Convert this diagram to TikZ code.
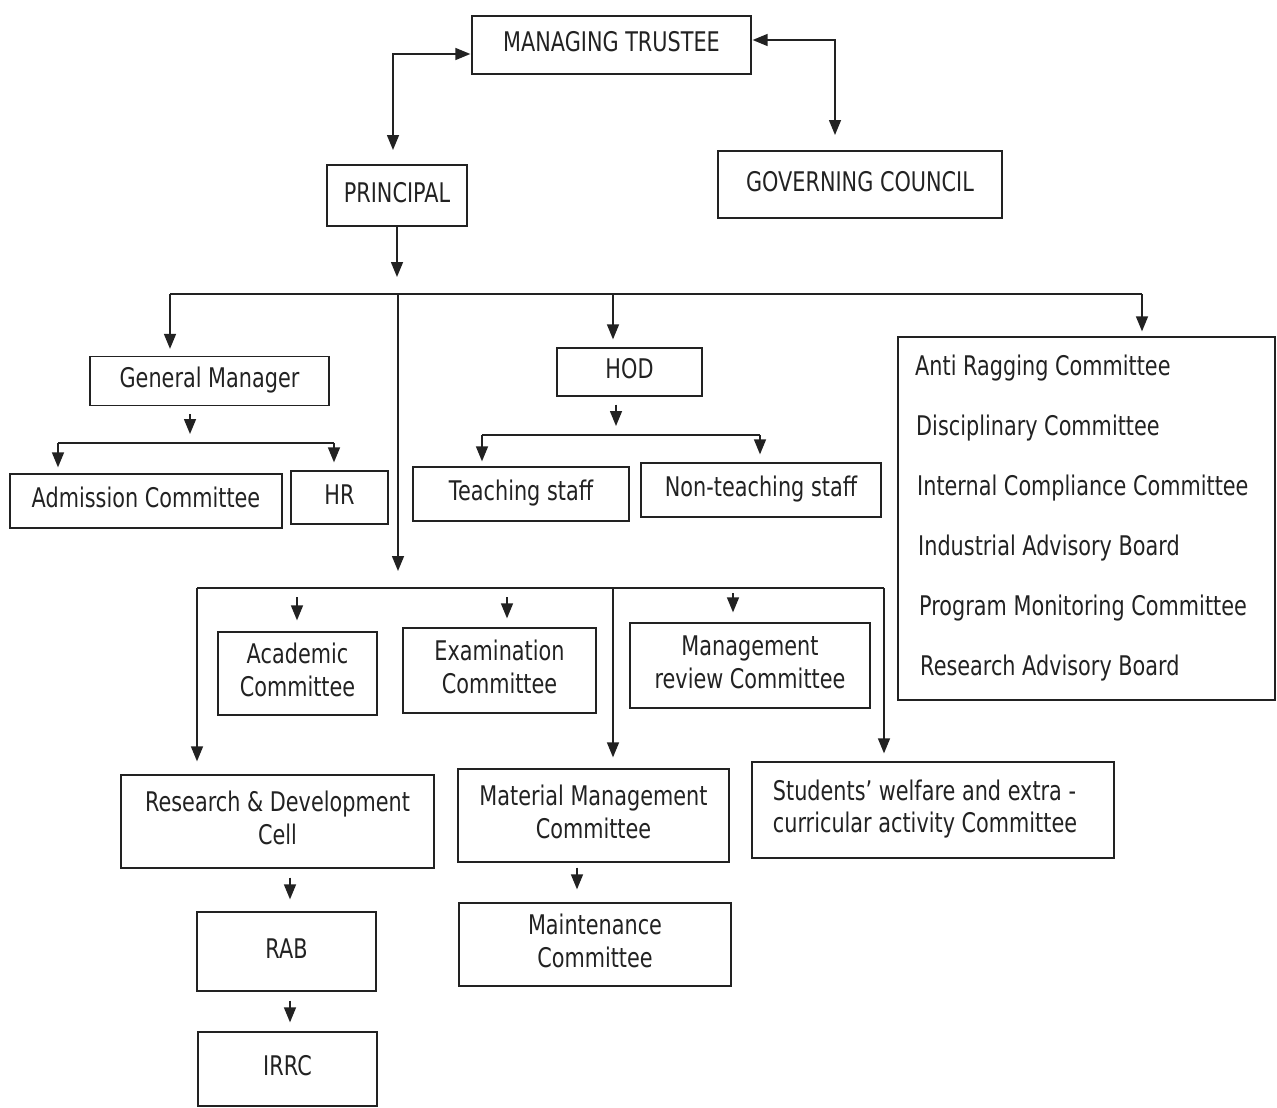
\documentclass[tikz,border=0pt]{standalone}
\usepackage{fontspec}
\setmainfont{DejaVu Sans}
\usepackage{graphicx}
\usetikzlibrary{arrows.meta,calc}
\definecolor{ink}{HTML}{222222}
\newcommand\tx[1]{\scalebox{1}[1.3]{\begin{tabular}{@{}c@{}}#1\end{tabular}}}
\newcommand\txl[1]{\scalebox{1}[1.3]{#1}}
\begin{document}
\begin{tikzpicture}[x=1pt,y=-1pt,
  box/.style={draw=ink, line width=1.3pt, inner sep=0pt, text=ink,
    font=\fontsize{20.8}{25}\selectfont},
  lst/.style={inner sep=0pt, text=ink, font=\fontsize{20.8}{25}\selectfont, anchor=west},
  ln/.style={draw=ink, line width=1.5pt},
  arr/.style={draw=ink, line width=1.5pt, -{Triangle[length=15pt,width=12pt]}},
  arrb/.style={draw=ink, line width=1.5pt, {Triangle[length=15pt,width=12pt]}-{Triangle[length=15pt,width=12pt]}}]
\fill[white] (0,0) rectangle (1277,1108);
\useasboundingbox (0,0) rectangle (1277,1108);

% ---------- boxes ----------
\node[box, minimum width=279, minimum height=58] (mt) at (611.5,45) {\tx{MANAGING TRUSTEE}};
\node[box, minimum width=284, minimum height=67] (gc) at (860,184.5) {\tx{GOVERNING COUNCIL}};
\node[box, minimum width=140, minimum height=61] (pr) at (397,195.5) {\tx{PRINCIPAL}};
\node[box, minimum width=239, minimum height=49] (gm) at (209.5,381) {\tx{General Manager}};
\node[box, minimum width=145, minimum height=48] (hod) at (629.5,372) {\tx{HOD}};
\node[box, minimum width=272, minimum height=54] (adm) at (146,501) {\tx{Admission Committee}};
\node[box, minimum width=97, minimum height=53] (hr) at (339.5,497.5) {\tx{HR}};
\node[box, minimum width=216, minimum height=54] (teach) at (521,494) {\tx{Teaching staff}};
\node[box, minimum width=240, minimum height=54] (nonteach) at (761,490) {\tx{Non-teaching staff}};
\node[box, minimum width=377, minimum height=363] (list) at (1086.5,518.5) {};
\node[box, minimum width=159, minimum height=83] (acad) at (297.5,673.5) {\tx{Academic\\Committee}};
\node[box, minimum width=193, minimum height=85] (exam) at (499.5,670.5) {\tx{Examination\\Committee}};
\node[box, minimum width=240, minimum height=85] (mrev) at (750,665.5) {\tx{Management\\review Committee}};
\node[box, minimum width=313, minimum height=93] (rnd) at (277.5,821.5) {\tx{Research \& Development\\Cell}};
\node[box, minimum width=271, minimum height=93] (matm) at (593.5,815.5) {\tx{Material Management\\Committee}};
\node[box, minimum width=362, minimum height=96] (stud) at (933,810) {\scalebox{1}[1.3]{\begin{tabular}{@{}l@{}}Students’ welfare and extra -\\curricular activity Committee\end{tabular}}\hspace*{16pt}};
\node[box, minimum width=272, minimum height=83] (maint) at (595,944.5) {\tx{Maintenance\\Committee}};
\node[box, minimum width=179, minimum height=79] (rab) at (286.5,951.5) {\tx{RAB}};
\node[box, minimum width=179, minimum height=74] (irrc) at (287.5,1069) {\tx{IRRC}};

% ---------- list of committees ----------
\node[lst] (l1) at (915,368) {\txl{Anti Ragging Committee}};
\node[lst] (l2) at (916,428) {\txl{Disciplinary Committee}};
\node[lst] (l3) at (917,488) {\txl{Internal Compliance Committee}};
\node[lst] (l4) at (918,548) {\txl{Industrial Advisory Board}};
\node[lst] (l5) at (919,608) {\txl{Program Monitoring Committee}};
\node[lst] (l6) at (920,668) {\txl{Research Advisory Board}};

% ---------- coordinates ----------
\coordinate (c1) at (393,150);
\coordinate (c1t) at (393,54);
\coordinate (c2) at (835,135);
\coordinate (c2t) at (835,40);
\coordinate (c3) at (397,277);
\coordinate (bL) at (170,294);
\coordinate (bH) at (613,294);
\coordinate (bP) at (398,294);
\coordinate (bR) at (1142,294);
\coordinate (gx) at (190,443);
\coordinate (gL) at (58,443);
\coordinate (gR) at (334,443);
\coordinate (hx) at (616,435);
\coordinate (hL) at (482,435);
\coordinate (hR) at (760,435);
\coordinate (mL) at (197,588);
\coordinate (mP) at (398,588);
\coordinate (mA) at (297,588);
\coordinate (mE) at (507,588);
\coordinate (mM) at (613,588);
\coordinate (mV) at (733,588);
\coordinate (mR) at (884,588);

% ---------- connectors ----------
\draw[arrb, shorten >=1pt] (c1) -- (c1t) -- (c1t -| mt.west);
\draw[arrb, shorten <=1pt] (c2t -| mt.east) -- (c2t) -- (c2);
\draw[arr] (pr.south -| c3) -- (c3);
\draw[ln] (bL) -- (bR);
\draw[arr, shorten >=7pt] (bL) -- (gm.north -| bL);
\draw[arr, shorten >=8pt] (bH) -- (hod.north -| bH);
\draw[arr, shorten >=5pt] (bR) -- (list.north -| bR);
\draw[arr, shorten >=17pt] (bP) -- (mP);

\draw[arr, shorten <=8pt, shorten >=9pt] (gm.south -| gx) -- (gx);
\draw[ln] (gL) -- (gR);
\draw[arr, shorten >=6pt] (gL) -- (adm.north -| gL);
\draw[arr, shorten >=8pt] (gR) -- (hr.north -| gR);

\draw[arr, shorten <=8pt, shorten >=9pt] (hod.south -| hx) -- (hx);
\draw[ln] (hL) -- (hR);
\draw[arr, shorten >=5pt] (hL) -- (teach.north -| hL);
\draw[arr, shorten >=8pt] (hR) -- (nonteach.north -| hR);

\draw[ln] (mL) -- (mR);
\draw[arr, shorten >=13pt] (mL) -- (rnd.north -| mL);
\draw[arr, shorten >=11pt] (mM) -- (matm.north -| mM);
\draw[arr, shorten >=8pt] (mR) -- (stud.north -| mR);
\draw[arr, shorten <=9pt, shorten >=11pt] (mA) -- (acad.north -| mA);
\draw[arr, shorten <=9pt, shorten >=9pt] (mE) -- (exam.north -| mE);
\draw[arr, shorten <=5pt, shorten >=10pt] (mV) -- (mrev.north -| mV);

\coordinate (rx) at (290,0);
\coordinate (mx) at (577,0);
\draw[arr, shorten <=9pt, shorten >=12pt] (rnd.south -| rx) -- (rab.north -| rx);
\draw[arr, shorten <=9pt, shorten >=9pt] (rab.south -| rx) -- (irrc.north -| rx);
\draw[arr, shorten <=5pt, shorten >=13pt] (matm.south -| mx) -- (maint.north -| mx);
\end{tikzpicture}
\end{document}
